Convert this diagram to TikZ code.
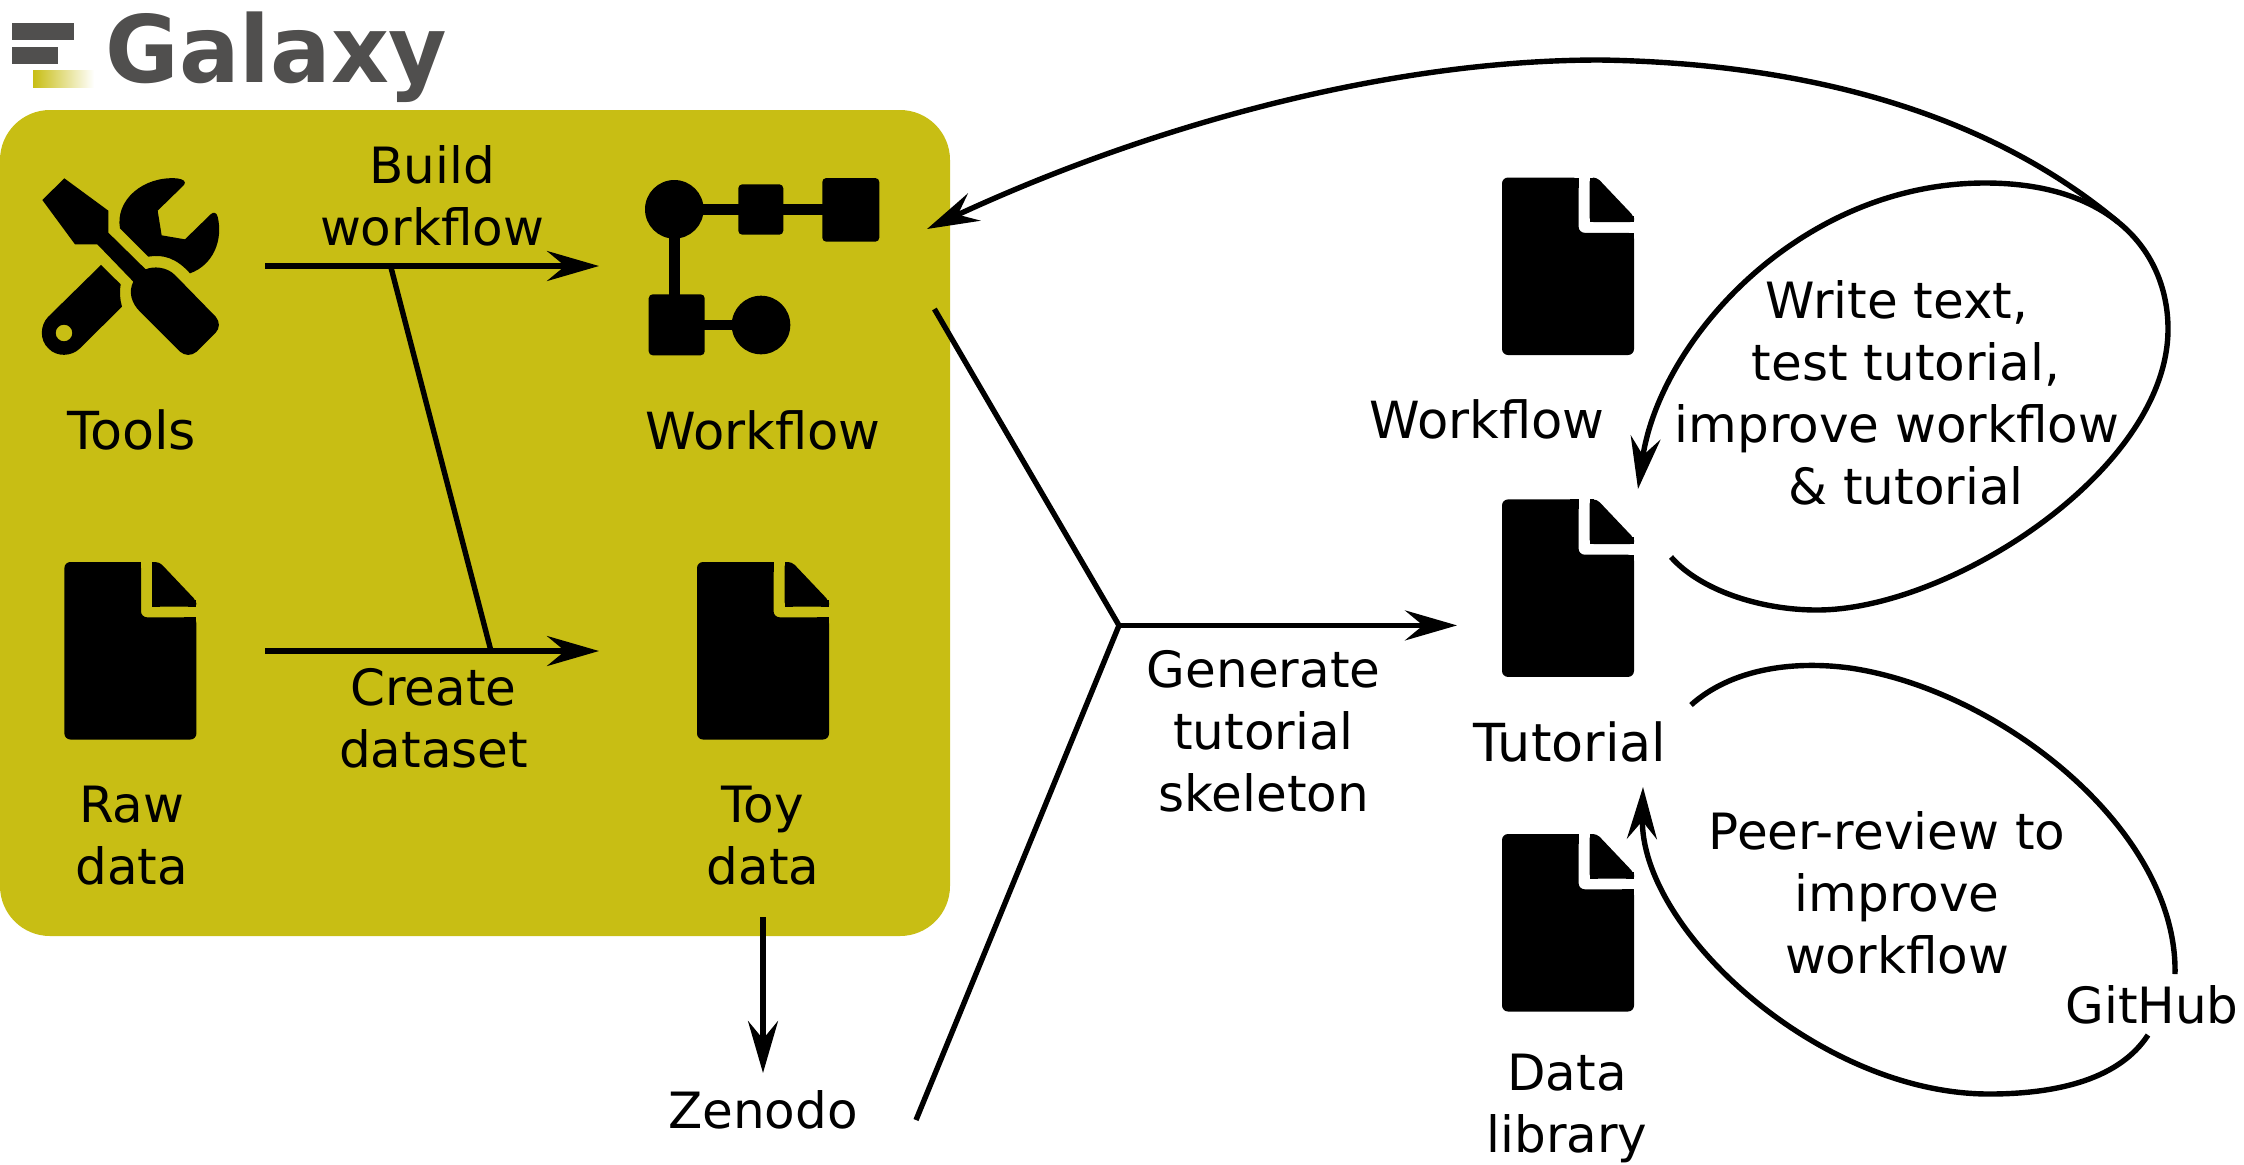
\documentclass[tikz,border=0pt]{standalone}
\usepackage{graphicx}
\usepackage{fontspec}
\setmainfont{DejaVu Sans}
\usetikzlibrary{arrows.meta}
\definecolor{panelcol}{HTML}{C8BE14}
\definecolor{logocol}{HTML}{504F4E}
\tikzset{
  lbl/.style={inner sep=0pt,anchor=base,align=center,font=\fontsize{25pt}{31pt}\selectfont},
  lblbig/.style={lbl,font=\fontsize{26.2pt}{31pt}\selectfont},
  lblmid/.style={lbl,font=\fontsize{25.6pt}{31pt}\selectfont},
  conn/.style={line width=2.7pt,black},
  arr/.style={conn,-{Stealth[length=26pt,width=15pt,inset=9pt]}},
  docicon/.pic={
    \fill[rounded corners=3pt] (0,0)--(76.6,0)--(76.6,55.3)--(132,55.3)--(132,177.5)--(0,177.5)--cycle;
    \fill (68,0) rectangle (76.6,10);
    \fill (120,55.3) rectangle (132,68);
    \fill[rounded corners=2pt] (87.7,0)--(95,0)--(132,39)--(132,44.6)--(87.7,44.6)--cycle;
    \fill (87.7,0) rectangle (92,6);
    \fill (87.7,38) rectangle (96,44.6);
    \fill (124,38) -- (132,38) -- (132,44.6) -- (124,44.6) -- cycle;
  }
}
\begin{document}
\begin{tikzpicture}[x=0.5pt,y=-0.5pt]
\useasboundingbox (0,0) rectangle (2244,1164);
% logo
\fill[logocol] (12,23) rectangle (74,40);
\fill[logocol] (12,47) rectangle (58,64);
\shade[left color=panelcol,right color=white,shading angle=90] (33,70) rectangle (94,87);
\node[inner sep=0pt,anchor=base west,text=logocol,font=\bfseries\fontsize{46.5pt}{50pt}\selectfont] (logo) at (105,82) {\scalebox{0.965}[1]{Galaxy}};
% panel
\fill[panelcol,rounded corners=25pt] (0,110) rectangle (950,936);
% tools icon
\begin{scope}[x=0.5pt/3,y=-0.5pt/3]
\fill (193,535)--(325,632)--(325,698)--(437,808)
  .. controls (460,798) and (500,800) .. (525,825)
  --(647,950) .. controls (660,965) and (660,985) .. (647,998)
  --(590,1055) .. controls (575,1068) and (555,1068) .. (540,1055)
  --(420,935) .. controls (393,908) and (385,875) .. (400,845)
  --(292,733)--(225,733)--(127,600)--cycle;
\fill (552,555) .. controls (560,545) and (550,537) .. (530,535)
  .. controls (430,528) and (345,600) .. (360,685)
  --(445,770) .. controls (490,762) and (530,775) .. (570,820)
  .. controls (640,795) and (670,720) .. (653,650)
  .. controls (650,637) and (640,635) .. (632,643)
  --(555,718)--(485,706)--(473,632)--cycle;
\fill[even odd rule] (303,795)--(362,853) .. controls (358,875) and (360,900) .. (366,920)
  --(240,1045) .. controls (215,1070) and (170,1072) .. (145,1045)
  .. controls (118,1020) and (120,975) .. (145,950)--cycle
  (192,999) circle[radius=25];
\end{scope}
% workflow icon
\draw[line width=5.3pt] (674.3,209.3)--(830,209.3);
\draw[line width=5.3pt] (674.3,209.3)--(674.3,310);
\draw[line width=5.3pt] (690,325)--(761,325);
\fill (674.3,209.3) circle[radius=29.3];
\fill[rounded corners=2pt] (738.3,184.3) rectangle (783.3,234.7);
\fill[rounded corners=2pt] (822.3,178) rectangle (879.3,241.7);
\fill[rounded corners=2pt] (648.7,294.3) rectangle (704.7,355.3);
\fill (761,325) circle[radius=29.3];
% documents
\pic at (64.4,562) {docicon};
\pic at (697,562) {docicon};
\pic at (1502,177.5) {docicon};
\pic at (1502,499.4) {docicon};
\pic at (1502,834) {docicon};
% labels
\node[lbl] (tbuild) at (432,245) {Build\\workflow};
\node[lblbig] (ttools) at (131.6,449) {Tools};
\node[lblmid] (twf) at (763,449) {Workflow};
\node[lbl] (traw) at (131.6,884) {Raw\\data};
\node[lbl] (ttoy) at (763,884) {Toy\\data};
\node[lbl] (tcreate) at (433.6,767) {Create\\dataset};
\node[lbl] (tzen) at (763,1128) {Zenodo};
\node[lbl] (tgen) at (1263.6,811) {Generate\\tutorial\\skeleton};
\node[lblmid] (twf2) at (1487,438) {Workflow};
\node[lblbig] (ttut) at (1570,761) {Tutorial};
\node[lbl] (tdata) at (1567,1152) {Data\\library};
\node[lbl] (twrite) at (1897,504) {Write text,\\\hspace*{9pt}test tutorial,\\improve workflow\\\hspace*{9pt}\& tutorial};
\node[lbl] (tpeer) at (1897,973) {Peer-review to\hspace*{10pt}\\improve\\workflow};
\node[lbl] (tgit) at (2152,1023) {GitHub};
% connectors
\coordinate (bs) at (265,266); \coordinate (be) at (599,266);
\coordinate (cs) at (265,651); \coordinate (ce) at (599,651);
\coordinate (j1) at (390.6,266); \coordinate (j2) at (491,651);
\draw[arr] (bs)--(be);
\draw[arr] (cs)--(ce);
\draw[conn] (j1)--(j2);
\coordinate (zs) at (763,917); \coordinate (ze) at (763,1073);
\draw[arr] (zs)--(ze);
\coordinate (ta) at (934.4,309); \coordinate (tj) at (1119,625.4); \coordinate (tb) at (916,1120); \coordinate (te) at (1457,625.4);
\draw[conn,line join=miter] (ta)--(tj)--(tb);
\draw[arr] (tj)--(te);
\coordinate (l1s) at (1671,557); \coordinate (l1e) at (1638,489);
\draw[arr] (l1s) .. controls (1700,590) and (1760,610) .. (1817,610)
  .. controls (1950,610) and (2168,470) .. (2168,329)
  .. controls (2168,255) and (2115,183) .. (1985,183)
  .. controls (1800,183) and (1660,340) .. (l1e);
\coordinate (l2s) at (2118,222); \coordinate (l2e) at (927,229);
\draw[arr] (l2s) .. controls (2020,140) and (1860,64) .. (1600,60)
  .. controls (1380,60) and (1140,130) .. (l2e);
\coordinate (l3s) at (1691,705); \coordinate (l3e) at (2175,974);
\draw[conn] (l3s) .. controls (1730,670) and (1790,660) .. (1850,668)
  .. controls (2000,690) and (2178,830) .. (l3e);
\coordinate (l4s) at (2148,1035); \coordinate (l4e) at (1643,787);
\draw[arr] (l4s) .. controls (2120,1078) and (2060,1094) .. (1989,1094)
  .. controls (1820,1094) and (1640,930) .. (l4e);
\end{tikzpicture}
\end{document}
